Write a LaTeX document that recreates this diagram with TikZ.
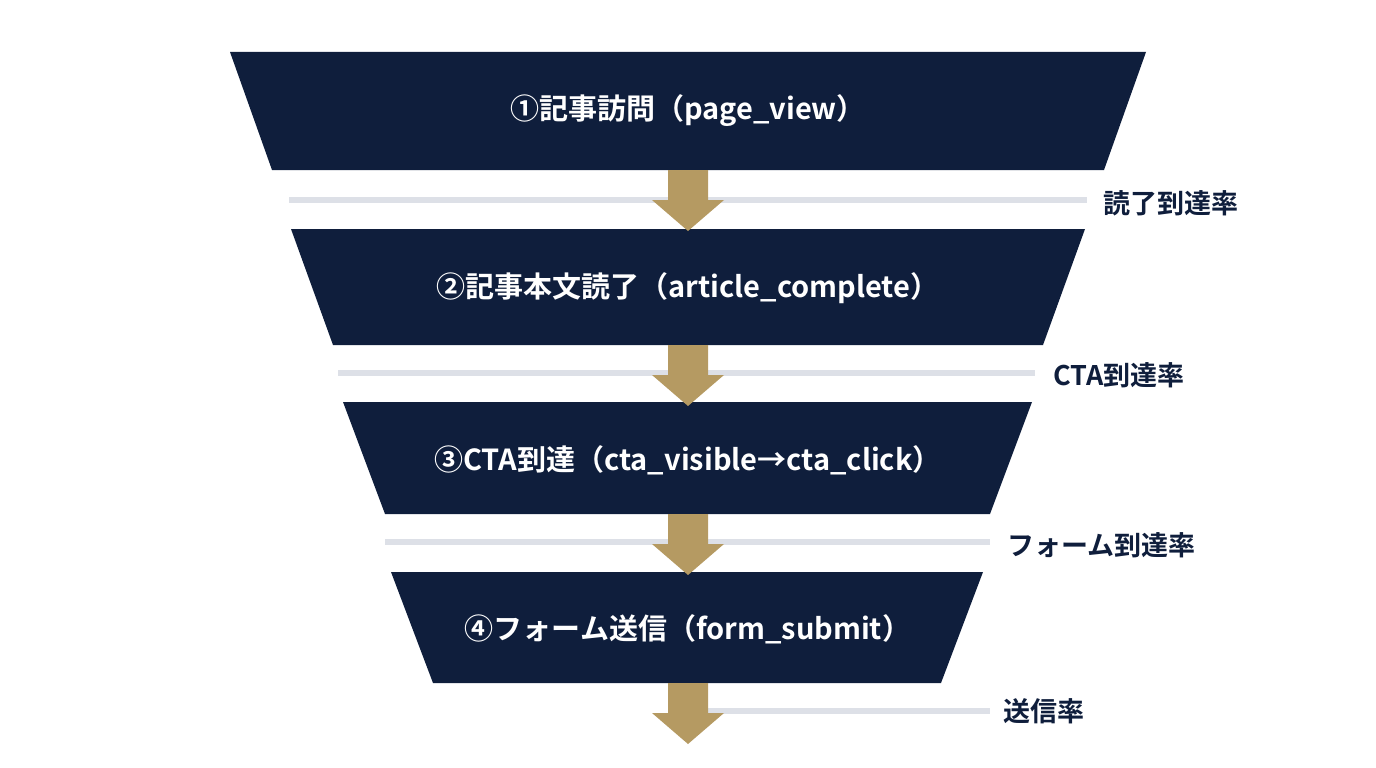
\documentclass[tikz,border=0pt]{standalone}
\usepackage{fontspec}
\newfontfamily\cjk{Noto Sans CJK JP}[BoldFont={* Bold}]
\definecolor{navy}{HTML}{0F1E3C}
\definecolor{gold}{HTML}{B59A62}
\definecolor{bar}{HTML}{DDE0E7}
\begin{document}
\begin{tikzpicture}[x=1pt,y=-1pt,
  stage/.style={fill=navy},
  ttl/.style={text=white,font=\cjk\bfseries\fontsize{29}{32}\selectfont},
  lbl/.style={text=navy,anchor=west,font=\cjk\bfseries\fontsize{27}{30}\selectfont},
  gbar/.style={draw=bar,line width=6pt},
  arr/.style={fill=gold}]
\useasboundingbox (0,0) rectangle (1376,768);
\foreach \i/\t/\b/\tl/\tr/\bl/\br in {1/52/170/230/1146/272/1104, 2/229/345/291/1085/333/1043, 3/402/514/343/1032/385/990, 4/572/683/391/983/433/941}{
  \fill[stage] (\tl,\t) -- (\tr,\t) -- (\br,\b) -- (\bl,\b) -- cycle;
}
\draw[gbar] (289,200) -- (1087,200);
\draw[gbar] (338,373) -- (1035,373);
\draw[gbar] (385,542) -- (990,542);
\draw[gbar] (700,711) -- (990,711);
\foreach \y in {170,345,514,683}{
  \fill[arr] (668,\y) -- (708,\y) -- (708,\y+30) -- (724,\y+30) -- (688,\y+61) -- (652,\y+30) -- (668,\y+30) -- cycle;
}
\node[ttl] (s1) at (688,111) {①記事訪問（page\_view）};
\node[ttl] (s2) at (688,288) {②記事本文読了（article\_complete）};
\node[ttl] (s3) at (688,460) {③CTA到達（cta\_visible→cta\_click）};
\node[ttl] (s4) at (688,629) {④フォーム送信（form\_submit）};
\node[lbl] (l1) at (1100,203) {読了到達率};
\node[lbl] (l2) at (1050,375) {CTA到達率};
\node[lbl] (l3) at (1004,545) {フォーム到達率};
\node[lbl] (l4) at (1000,711) {送信率};
\end{tikzpicture}
\end{document}
